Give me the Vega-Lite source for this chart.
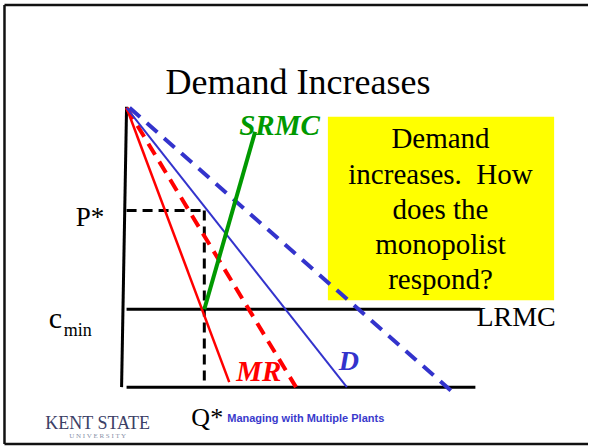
{
  "$schema": "https://vega.github.io/schema/vega-lite/v6.json",
  "width": 590,
  "height": 446,
  "autosize": {"type": "fit", "contains": "padding"},
  "padding": 0,
  "background": "white",
  "config": {"view": {"stroke": null}},
  "datasets": {
    "border": [
      {"x": 4.5, "y": 5, "x2": 590, "y2": 5},
      {"x": 4.5, "y": 5, "x2": 4.5, "y2": 445},
      {"x": 4.5, "y": 445, "x2": 590, "y2": 445}
    ],
    "box": [{"x": 329, "y": 117, "x2": 556, "y2": 301}],
    "axes": [
      {"x": 127, "y": 107, "x2": 122, "y2": 388},
      {"x": 127, "y": 388, "x2": 477, "y2": 388},
      {"x": 127, "y": 310, "x2": 482, "y2": 310}
    ],
    "pstar": [
      {"x": 127, "y": 211, "x2": 205, "y2": 211},
      {"x": 205, "y": 211, "x2": 205, "y2": 388}
    ],
    "mr": [{"x": 127, "y": 108, "x2": 230, "y2": 383}],
    "mr2": [{"x": 127, "y": 108, "x2": 297, "y2": 388}],
    "d": [{"x": 127, "y": 108, "x2": 348, "y2": 388}],
    "d2": [{"x": 130, "y": 108, "x2": 453, "y2": 392}],
    "srmc": [{"x": 205, "y": 310, "x2": 256, "y2": 132}],
    "title": [{"x": 299, "y": 94, "text": "Demand Increases"}],
    "boxtext": [
      {"x": 442, "y": 148, "text": "Demand"},
      {"x": 442, "y": 184, "text": "increases.\u00a0 How"},
      {"x": 442, "y": 219, "text": "does the"},
      {"x": 442, "y": 255, "text": "monopolist"},
      {"x": 442, "y": 290, "text": "respond?"}
    ],
    "plain": [
      {"x": 478, "y": 327, "text": "LRMC", "size": 28},
      {"x": 76, "y": 227, "text": "P*", "size": 27},
      {"x": 49, "y": 329, "text": "c", "size": 30},
      {"x": 64, "y": 337, "text": "min", "size": 18},
      {"x": 192, "y": 427, "text": "Q*", "size": 26}
    ],
    "srmclab": [{"x": 240, "y": 135, "text": "SRMC"}],
    "mrlab": [{"x": 237, "y": 382, "text": "MR"}],
    "dlab": [{"x": 340, "y": 371, "text": "D"}],
    "footer": [{"x": 228, "y": 423, "text": "Managing with Multiple Plants"}],
    "kent": [{"x": 98, "y": 430, "text": "KENT STATE"}],
    "univ": [{"x": 98, "y": 439, "text": "U N I V E R S I T Y"}]
  },
  "encoding": {
    "x": {"field": "x", "type": "quantitative", "scale": {"domain": [0, 590], "nice": false, "zero": false}, "axis": null},
    "y": {"field": "y", "type": "quantitative", "scale": {"domain": [0, 446], "nice": false, "zero": false, "reverse": true}, "axis": null}
  },
  "layer": [
    {"data": {"name": "box"}, "mark": {"type": "rect", "color": "#ffff00"},
     "encoding": {"x2": {"field": "x2"}, "y2": {"field": "y2"}}},
    {"data": {"name": "border"}, "mark": {"type": "rule", "color": "#111111", "strokeWidth": 2.5},
     "encoding": {"x2": {"field": "x2"}, "y2": {"field": "y2"}}},
    {"data": {"name": "axes"}, "mark": {"type": "rule", "color": "#000000", "strokeWidth": 3},
     "encoding": {"x2": {"field": "x2"}, "y2": {"field": "y2"}}},
    {"data": {"name": "pstar"}, "mark": {"type": "rule", "color": "#000000", "strokeWidth": 3, "strokeDash": [10, 6]},
     "encoding": {"x2": {"field": "x2"}, "y2": {"field": "y2"}}},
    {"data": {"name": "mr2"}, "mark": {"type": "rule", "color": "#ff0000", "strokeWidth": 4, "strokeDash": [13, 8]},
     "encoding": {"x2": {"field": "x2"}, "y2": {"field": "y2"}}},
    {"data": {"name": "d2"}, "mark": {"type": "rule", "color": "#3333cc", "strokeWidth": 4, "strokeDash": [14, 9]},
     "encoding": {"x2": {"field": "x2"}, "y2": {"field": "y2"}}},
    {"data": {"name": "mr"}, "mark": {"type": "rule", "color": "#ff0000", "strokeWidth": 2.5},
     "encoding": {"x2": {"field": "x2"}, "y2": {"field": "y2"}}},
    {"data": {"name": "d"}, "mark": {"type": "rule", "color": "#3333cc", "strokeWidth": 2},
     "encoding": {"x2": {"field": "x2"}, "y2": {"field": "y2"}}},
    {"data": {"name": "srmc"}, "mark": {"type": "rule", "color": "#009900", "strokeWidth": 4},
     "encoding": {"x2": {"field": "x2"}, "y2": {"field": "y2"}}},
    {"data": {"name": "title"}, "mark": {"type": "text", "font": "Liberation Serif", "fontSize": 36, "align": "center", "baseline": "alphabetic", "color": "#000000"},
     "encoding": {"text": {"field": "text"}}},
    {"data": {"name": "boxtext"}, "mark": {"type": "text", "font": "Liberation Serif", "fontSize": 29, "align": "center", "baseline": "alphabetic", "color": "#000000"},
     "encoding": {"text": {"field": "text"}}},
    {"data": {"name": "plain"}, "mark": {"type": "text", "font": "Liberation Serif", "align": "left", "baseline": "alphabetic", "color": "#000000"},
     "encoding": {"text": {"field": "text"}, "size": {"field": "size", "type": "quantitative", "scale": null}}},
    {"data": {"name": "srmclab"}, "mark": {"type": "text", "font": "Liberation Serif", "fontSize": 29, "fontStyle": "italic", "fontWeight": "bold", "align": "left", "baseline": "alphabetic", "color": "#009900"},
     "encoding": {"text": {"field": "text"}}},
    {"data": {"name": "mrlab"}, "mark": {"type": "text", "font": "Liberation Serif", "fontSize": 29, "fontStyle": "italic", "fontWeight": "bold", "align": "left", "baseline": "alphabetic", "color": "#ff0000"},
     "encoding": {"text": {"field": "text"}}},
    {"data": {"name": "dlab"}, "mark": {"type": "text", "font": "Liberation Serif", "fontSize": 28, "fontStyle": "italic", "fontWeight": "bold", "align": "left", "baseline": "alphabetic", "color": "#3333cc"},
     "encoding": {"text": {"field": "text"}}},
    {"data": {"name": "footer"}, "mark": {"type": "text", "font": "Liberation Sans", "fontSize": 11, "fontWeight": "bold", "align": "left", "baseline": "alphabetic", "color": "#3a3acc"},
     "encoding": {"text": {"field": "text"}}},
    {"data": {"name": "kent"}, "mark": {"type": "text", "font": "Liberation Serif", "fontSize": 18, "align": "center", "baseline": "alphabetic", "color": "#3b4066"},
     "encoding": {"text": {"field": "text"}}},
    {"data": {"name": "univ"}, "mark": {"type": "text", "font": "Liberation Serif", "fontSize": 7, "align": "center", "baseline": "alphabetic", "color": "#8890a8"},
     "encoding": {"text": {"field": "text"}}}
  ]
}
